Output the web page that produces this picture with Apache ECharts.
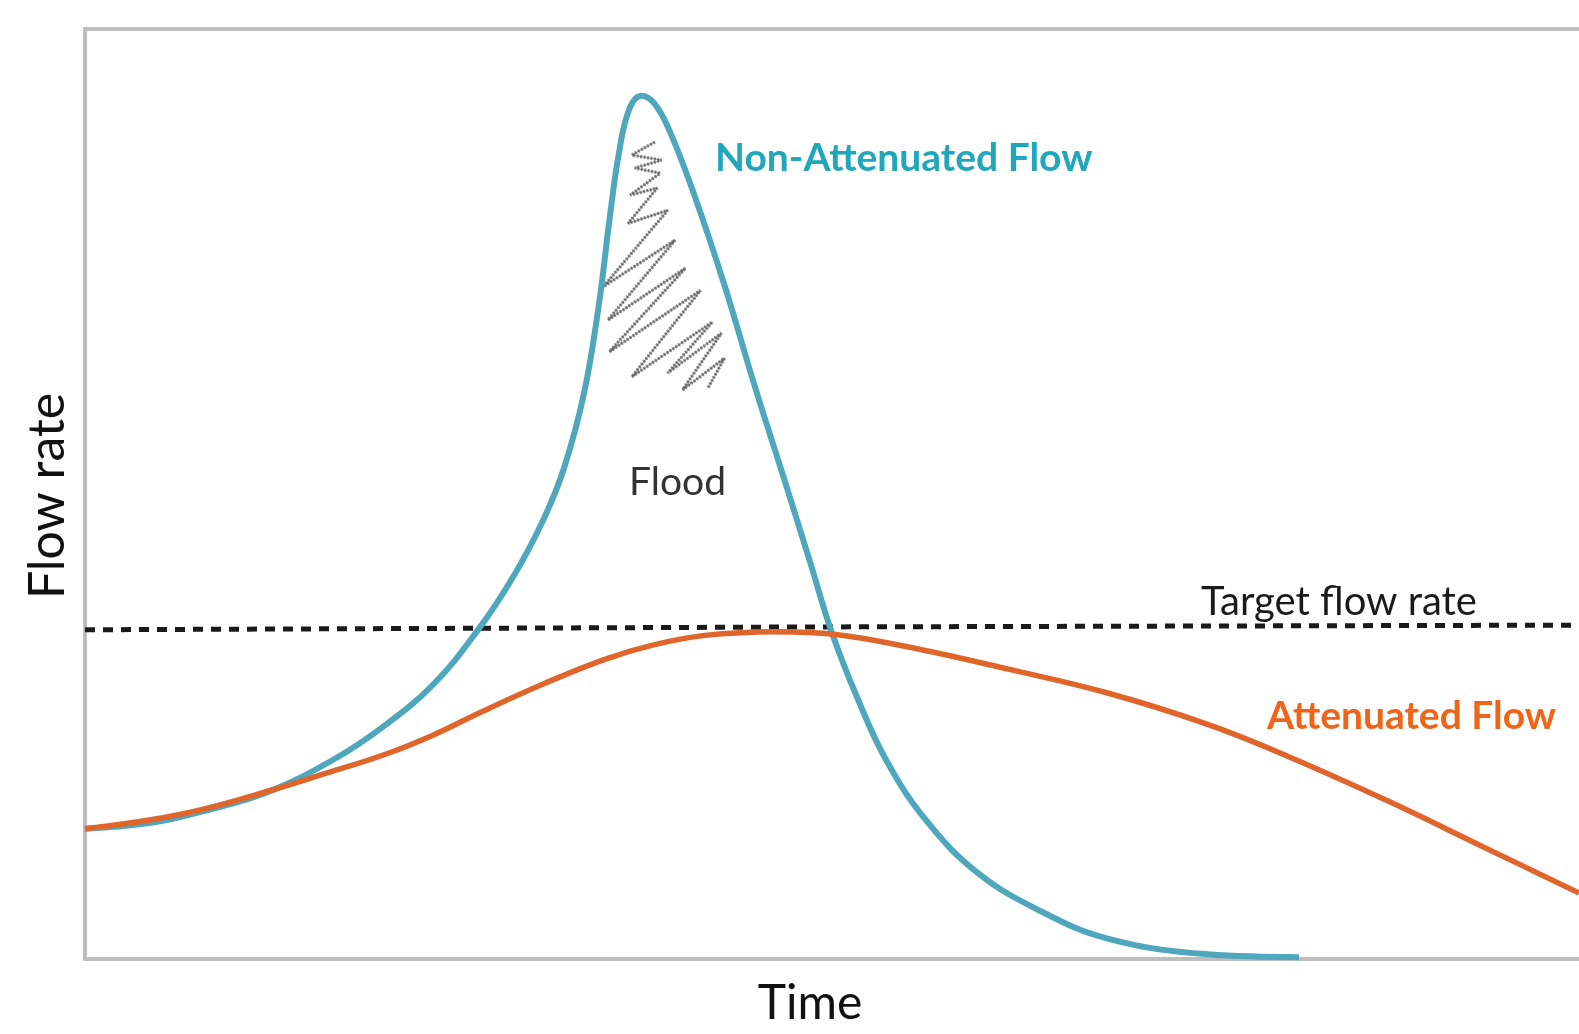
<!DOCTYPE html>
<html>
<head>
<meta charset="utf-8">
<script src="https://cdn.jsdelivr.net/npm/echarts@6/dist/echarts.min.js"></script>
<style>
html,body{margin:0;padding:0;background:#fff;}
#chart{width:1579px;height:1034px;}
</style>
</head>
<body>
<div id="chart"></div>
<script>
// Time axis is 0..100 (arbitrary units), flow rate axis 0..100 (arbitrary units)
const nonAttenuatedFlow = [
  [0, 14.0], [4.42, 14.65], [7.79, 15.85], [12.17, 17.9], [16.55, 21.37], [19.92, 24.94],
  [23.29, 29.49], [26.33, 35.44], [28.69, 41.18], [30.71, 47.35], [32.06, 52.77],
  [33.41, 60.89], [34.42, 70.63], [35.09, 79.3], [35.76, 86.88], [36.44, 91.42],
  [37.25, 92.83], [38.12, 91.97], [39.13, 89.04], [40.82, 82.0], [42.84, 72.26],
  [44.86, 61.43], [46.89, 51.14], [48.57, 42.48], [49.92, 35.44], [51.61, 28.41],
  [53.63, 21.37], [56.32, 14.87], [59.69, 9.34], [63.73, 5.34], [68.45, 2.2],
  [75.19, 0.5], [81.26, 0.2]
];
const attenuatedFlow = [
  [0, 14.0], [4.42, 14.98], [7.79, 16.06], [12.17, 18.01], [15.88, 19.85], [19.92, 21.91],
  [23.29, 24.07], [26.66, 26.67], [30.71, 29.6], [34.75, 32.2], [38.12, 33.8],
  [41.49, 34.8], [46.21, 35.2], [50.25, 34.9], [54.97, 33.6], [61.71, 31.2],
  [68.45, 28.6], [75.19, 25.2], [80.65, 21.7], [87.33, 16.9], [93.6, 12.05], [100, 7.1]
];
const targetFlowRate = [[0, 35.4], [48, 35.7], [100, 35.9]];
const floodScribble = [
  [38.15, 87.85], [36.6, 86.45], [38.6, 85.9], [36.8, 85.05], [38.5, 84.5], [36.5, 82.15],
  [38.3, 82.9], [36.35, 79.1], [39.0, 80.5], [34.7, 72.3], [39.5, 77.3], [35.0, 68.7],
  [40.2, 74.3], [35.1, 65.3], [41.2, 71.9], [36.6, 62.6], [42.0, 68.5], [39.0, 63.0],
  [42.6, 67.3], [40.0, 61.2], [42.8, 64.6], [41.7, 61.4]
];
const labels = {
  xName: 'Time', yName: 'Flow rate', nonAtt: 'Non-Attenuated Flow',
  att: 'Attenuated Flow', target: 'Target flow rate', flood: 'Flood'
};

const chart = echarts.init(document.getElementById('chart'), null, {renderer: 'canvas'});
const FONT = 'Lato, "DejaVu Sans", sans-serif';
const axisGray = '#bdbdbd';
chart.setOption({
  animation: false,
  backgroundColor: '#ffffff',
  grid: {left: 85, right: 0, top: 29, bottom: 75, show: false},
  xAxis: [
    {type: 'value', min: 0, max: 100, position: 'bottom',
     axisLine: {show: true, lineStyle: {color: axisGray, width: 4}},
     axisTick: {show: false}, axisLabel: {show: false}, splitLine: {show: false}},
    {type: 'value', min: 0, max: 100, position: 'top',
     axisLine: {show: true, lineStyle: {color: axisGray, width: 4}},
     axisTick: {show: false}, axisLabel: {show: false}, splitLine: {show: false}}
  ],
  yAxis: {type: 'value', min: 0, max: 100,
    axisLine: {show: true, lineStyle: {color: axisGray, width: 4}},
    axisTick: {show: false}, axisLabel: {show: false}, splitLine: {show: false}},
  series: [
    {name: 'scribble', type: 'line', data: floodScribble, smooth: false, symbol: 'none', z: 1,
     lineStyle: {color: 'rgba(50,50,50,0.55)', width: 3.5, type: [2, 1.5]}},
    {name: 'scribble2', type: 'line', data: floodScribble, smooth: false, symbol: 'none', z: 1,
     lineStyle: {color: 'rgba(50,50,50,0.45)', width: 1.2}},
    {name: labels.nonAtt, type: 'line', data: nonAttenuatedFlow, smooth: 0.4,
     symbol: 'none', z: 3, lineStyle: {color: '#4ea7bc', width: 6}},
    {name: labels.att, type: 'line', data: attenuatedFlow, smooth: 0.4,
     symbol: 'none', z: 4, lineStyle: {color: '#e0652b', width: 5.5}},
    {name: labels.target, type: 'line', data: targetFlowRate, smooth: false, symbol: 'none', z: 2,
     lineStyle: {color: '#1a1a1a', width: 5, type: [10, 8]}}
  ],
  graphic: [
    {type: 'text', x: 715, y: 158, style: {text: labels.nonAtt, fill: '#20a7bc',
      font: 'bold 39px ' + FONT, textAlign: 'left', textVerticalAlign: 'middle'}},
    {type: 'text', x: 1267, y: 716, style: {text: labels.att, fill: '#ee6519',
      font: 'bold 39px ' + FONT, textAlign: 'left', textVerticalAlign: 'middle'}},
    {type: 'text', x: 1201, y: 602, style: {text: labels.target, fill: '#1a1a1a',
      font: '40px ' + FONT, textAlign: 'left', textVerticalAlign: 'middle'}},
    {type: 'text', x: 629, y: 482, style: {text: labels.flood, fill: '#333333',
      font: '39px ' + FONT, textAlign: 'left', textVerticalAlign: 'middle'}},
    {type: 'text', x: 810, y: 1004, style: {text: labels.xName, fill: '#111111',
      font: '48px ' + FONT, textAlign: 'center', textVerticalAlign: 'middle'}},
    {type: 'text', x: 48, y: 496, rotation: Math.PI / 2, style: {text: labels.yName, fill: '#111111',
      font: '50px ' + FONT, textAlign: 'center', textVerticalAlign: 'middle'}}
  ]
});
</script>
</body>
</html>
